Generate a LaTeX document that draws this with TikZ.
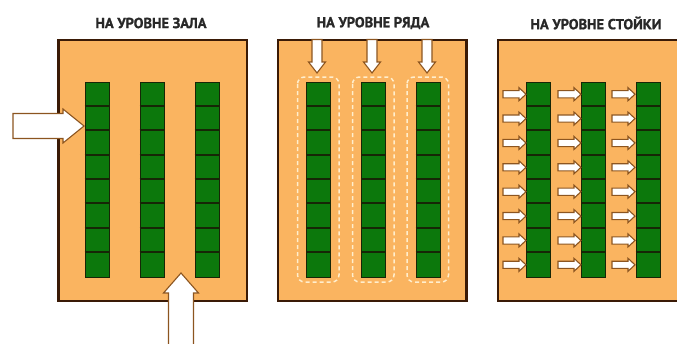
\documentclass[tikz,border=0pt]{standalone}
\usepackage{fontspec}
\setmainfont{PT Sans}[BoldFeatures={FakeBold=1.2}]
\usetikzlibrary{calc}
\definecolor{hallfill}{RGB}{250,180,96}
\definecolor{rackgreen}{RGB}{12,120,12}
\definecolor{rackline}{RGB}{22,38,6}
\definecolor{wallcol}{RGB}{58,26,6}
\definecolor{arrowedge}{RGB}{140,85,32}
\definecolor{titlecol}{RGB}{40,40,40}
\definecolor{dashcol}{RGB}{255,238,205}
\tikzset{
  hallbox/.style={draw=wallcol, line width=2.6pt, fill=hallfill, inner sep=0pt,
    minimum width=188.5pt, minimum height=261pt},
  rackbox/.style={draw=rackline, line width=1pt, fill=rackgreen, inner sep=0pt,
    minimum width=24pt, minimum height=195pt},
  rackdiv/.style={draw=rackline, line width=1.8pt},
  aisle/.style={draw=dashcol, line width=1.5pt, dash pattern=on 4pt off 3pt, rounded corners=7pt},
  flow/.style={draw=arrowedge, line width=1.1pt, fill=white, line join=miter},
  title/.style={font=\bfseries\fontsize{14.5}{16}\selectfont, text=titlecol, inner sep=0pt}
}
% \flowarrow{x}{y}{rotation}{length}{head length}{shaft half width}{head half width}
\newcommand\flowarrow[7]{%
  \draw[flow, shift={(#1,#2)}, rotate=#3]
    (0,-#6) -- ({#4-#5},-#6) -- ({#4-#5},-#7) -- (#4,0) -- ({#4-#5},#7)
    -- ({#4-#5},#6) -- (0,#6) -- cycle;}
% \rackcolumn{name}{center x}
\newcommand\rackcolumn[2]{%
  \node[rackbox] (#1) at (#2,179.5) {};
  \foreach \k in {1,...,7}{\draw[rackdiv] ($(#1.north west)+(0,{\k*24.375})$) -- ++(24,0);}}
\begin{document}
\begin{tikzpicture}[x=1pt,y=-1pt]
\useasboundingbox (0,0) rectangle (677,343);
\clip (0,0) rectangle (677,343);
% titles
\node[title] (t1) at (151,23) {НА УРОВНЕ ЗАЛА};
\node[title] (t2) at (373,23) {НА УРОВНЕ РЯДА};
\node[title] (t3) at (596,23) {НА УРОВНЕ СТОЙКИ};
% halls
\node[hallbox] (h1) at (152.75,170.5) {};
\node[hallbox] (h2) at (372.25,170.5) {};
\node[hallbox] (h3) at (592.25,170.5) {};
% panel 1 racks
\rackcolumn{a1}{97}
\rackcolumn{a2}{152}
\rackcolumn{a3}{207}
% panel 2 aisles and racks
\foreach \cx in {318.5,373.5,428}{\draw[aisle] ({\cx-21},77) rectangle ({\cx+20.5},282);}
\rackcolumn{b1}{318.5}
\rackcolumn{b2}{373.5}
\rackcolumn{b3}{428}
% panel 3 racks
\rackcolumn{c1}{538.5}
\rackcolumn{c2}{593.5}
\rackcolumn{c3}{648}
% panel 1 arrows
\flowarrow{13}{126}{0}{71}{21}{12.5}{17}
\flowarrow{181}{350}{90}{77}{20}{12.5}{17.5}
% panel 2 arrows
\foreach \ax in {317,372,427}{\flowarrow{\ax}{39.5}{-90}{33.5}{11}{5}{8.5}}
% panel 3 arrows
\foreach \ox in {503,558,612}{
  \foreach \i in {0,...,7}{\flowarrow{\ox}{{94.2+\i*24.375}}{0}{23}{7}{3.6}{6.5}}}
\end{tikzpicture}
\end{document}
